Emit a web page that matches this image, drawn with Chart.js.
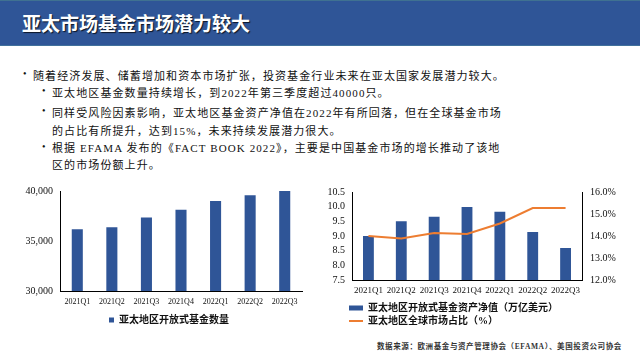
<!DOCTYPE html>
<html>
<head>
<meta charset="utf-8">
<script src="https://cdn.jsdelivr.net/npm/chart.js@4.4.1/dist/chart.umd.min.js"></script>
<style>
  body { margin: 0; background: #fff; }
  #slide { position: relative; width: 640px; height: 360px; overflow: hidden; background: #fff;
    font-family: "Liberation Serif", "Noto Sans CJK SC", serif; color: #111; }
  #titlebar { position: absolute; left: 0; top: 0; width: 640px; height: 44px; background: #2F5597;
    border-top: 1px solid #3F7191; border-bottom: 1px solid #41719C; }
  #titlebar h1 { margin: 0; position: absolute; left: 22px; top: 0; line-height: 44px; font-size: 19px;
    font-weight: bold; color: #fff; font-family: "Noto Sans CJK SC", sans-serif; text-shadow: 1px 1px 1px rgba(0,0,0,0.75); }
  .para { position: absolute; font-size: 11px; letter-spacing: 1.1px; white-space: nowrap; }
  .dot { position: absolute; font-size: 10px; }
  #source { position: absolute; left: 377px; top: 340px; font-size: 7.5px; letter-spacing: 0.6px; color: #333;
    white-space: nowrap; font-weight: bold; }
  canvas { position: absolute; }
</style>
</head>
<body>
<div id="slide">
  <div id="titlebar"><h1>亚太市场基金市场潜力较大</h1></div>

  <span class="dot" style="left:23px;top:68px">•</span>
  <div class="para" style="left:33px;top:67px;line-height:18px">随着经济发展、储蓄增加和资本市场扩张，投资基金行业未来在亚太国家发展潜力较大。</div>

  <span class="dot" style="left:42px;top:85px">•</span>
  <div class="para" style="left:52px;top:84px;line-height:18px">亚太地区基金数量持续增长，到2022年第三季度超过40000只。</div>

  <span class="dot" style="left:42px;top:105px">•</span>
  <div class="para" style="left:52px;top:104px;line-height:18px">同样受风险因素影响，亚太地区基金资产净值在2022年有所回落，但在全球基金市场<br>的占比有所提升，达到15%，未来持续发展潜力很大。</div>

  <span class="dot" style="left:42px;top:141px">•</span>
  <div class="para" style="left:52px;top:140px;line-height:17px">根据 EFAMA 发布的《FACT BOOK 2022》，主要是中国基金市场的增长推动了该地<br>区的市场份额上升。</div>

  <canvas id="countChart" width="320" height="160" style="left:0;top:178px"></canvas>
  <canvas id="navChart" width="320" height="160" style="left:320px;top:178px"></canvas>

  <div id="source">数据来源：欧洲基金与资产管理协会（EFAMA）、美国投资公司协会</div>
</div>

<script>
  const quarters = ["2021Q1", "2021Q2", "2021Q3", "2021Q4", "2022Q1", "2022Q2", "2022Q3"]

  // 亚太地区开放式基金数量
  const fundCount = [36180, 36380, 37350, 38120, 39000, 39580, 40000]
  const countTicks = [30000, 35000, 40000]

  // 资产净值（万亿美元） and 全球市场占比（%）
  const navTrillion = [9.0, 9.5, 9.66, 9.99, 9.83, 9.14, 8.59]
  const globalShare = [14.0, 13.89, 14.14, 14.09, 14.57, 15.27, 15.27]
  const navTicks = [7.5, 8.0, 8.5, 9.0, 9.5, 10.0, 10.5]
  const shareTicks = [12, 13, 14, 15, 16]

  const BLUE = "#2F5597"
  const ORANGE = "#ED7D31"
  const SERIF = '"Liberation Serif", "Noto Sans CJK SC", serif'

  Chart.defaults.font.family = SERIF
  Chart.defaults.color = "#111"
  Chart.defaults.animation = false

  const setTicks = (list) => (scale) => {
    scale.ticks = list.map((v) => ({ value: v }))
  }

  // nudge the legend sideways without touching the axes
  const shiftLegend = (dx) => ({
    id: "shiftLegend",
    afterLayout(chart) {
      chart.legend.left += dx
      chart.legend.right += dx
    },
  })

  const axisLine = { display: true, color: "#000", width: 1 }
  const noGrid = { drawOnChartArea: false, drawTicks: false }

  new Chart(document.getElementById("countChart"), {
    type: "bar",
    data: {
      labels: quarters,
      datasets: [
        {
          label: "亚太地区开放式基金数量",
          data: fundCount,
          backgroundColor: BLUE,
          barPercentage: 0.32,
          categoryPercentage: 1,
        },
      ],
    },
    plugins: [shiftLegend(18)],
    options: {
      responsive: false,
      layout: { padding: { left: 0, right: 18, top: 10, bottom: 3 } },
      plugins: {
        tooltip: { enabled: false },
        legend: {
          position: "bottom",
          labels: {
            boxWidth: 5,
            boxHeight: 5,
            padding: 3,
            color: "#111",
            font: { size: 10, weight: "bold", family: SERIF },
          },
        },
      },
      scales: {
        x: {
          grid: noGrid,
          border: axisLine,
          ticks: { font: { size: 8 }, color: "#111", padding: 6, autoSkip: false, maxRotation: 0 },
          afterFit: (s) => { s.height = 21 },
        },
        y: {
          min: countTicks[0],
          max: countTicks[countTicks.length - 1],
          grid: noGrid,
          border: axisLine,
          afterBuildTicks: setTicks(countTicks),
          ticks: {
            font: { size: 10 },
            color: "#111",
            padding: 7,
            autoSkip: false,
            callback: (v) => v.toLocaleString("en-US"),
          },
          afterFit: (s) => { s.width = 60 },
        },
      },
    },
  })

  new Chart(document.getElementById("navChart"), {
    data: {
      labels: quarters,
      datasets: [
        {
          type: "bar",
          label: "亚太地区开放式基金资产净值（万亿美元）",
          data: navTrillion,
          backgroundColor: BLUE,
          pointStyle: "rect",
          barPercentage: 0.33,
          categoryPercentage: 1,
          yAxisID: "y",
          order: 2,
        },
        {
          type: "line",
          label: "亚太地区全球市场占比（%）",
          data: globalShare,
          borderColor: ORANGE,
          backgroundColor: ORANGE,
          borderWidth: 2,
          pointRadius: 0,
          pointStyle: "line",
          tension: 0,
          yAxisID: "y1",
          order: 1,
        },
      ],
    },
    plugins: [shiftLegend(26)],
    options: {
      responsive: false,
      layout: { padding: { left: 0, right: 10, top: 10, bottom: 2 } },
      plugins: {
        tooltip: { enabled: false },
        legend: {
          position: "bottom",
          align: "start",
          labels: {
            usePointStyle: true,
            pointStyleWidth: 14,
            boxHeight: 5,
            padding: 3,
            color: "#111",
            font: { size: 10, weight: "bold", family: SERIF },
            sort: (a, b) => a.datasetIndex - b.datasetIndex,
          },
        },
      },
      scales: {
        x: {
          grid: noGrid,
          border: axisLine,
          ticks: { font: { size: 9 }, color: "#111", padding: 5, autoSkip: false, maxRotation: 0 },
          afterFit: (s) => { s.height = 20 },
        },
        y: {
          position: "left",
          min: navTicks[0],
          max: navTicks[navTicks.length - 1],
          grid: noGrid,
          border: axisLine,
          afterBuildTicks: setTicks(navTicks),
          ticks: { font: { size: 10 }, color: "#111", padding: 7, autoSkip: false, callback: (v) => v.toFixed(1) },
          afterFit: (s) => { s.width = 32 },
        },
        y1: {
          position: "right",
          min: shareTicks[0],
          max: shareTicks[shareTicks.length - 1],
          grid: noGrid,
          border: axisLine,
          afterBuildTicks: setTicks(shareTicks),
          ticks: { font: { size: 10 }, color: "#111", padding: 8, autoSkip: false, callback: (v) => v.toFixed(1) + "%" },
          afterFit: (s) => { s.width = 48 },
        },
      },
    },
  })
</script>
</body>
</html>
